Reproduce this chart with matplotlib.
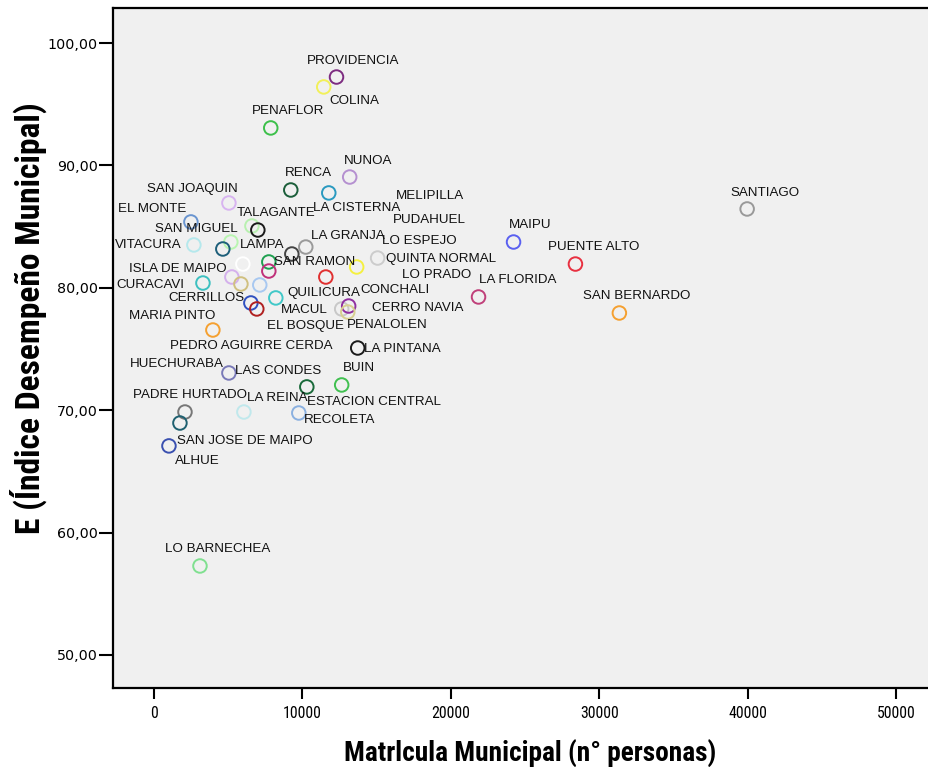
import matplotlib
matplotlib.use("Agg")
import matplotlib.pyplot as plt
from matplotlib import font_manager

# ---------------- data ----------------
comunas = [
    "PROVIDENCIA", "COLINA", "PENAFLOR", "NUNOA", "RENCA", "LA CISTERNA",
    "SAN JOAQUIN", "EL MONTE", "TALAGANTE", "LAMPA", "SAN MIGUEL", "VITACURA",
    "HUECHURABA", "LA GRANJA", "SAN RAMON", "QUINTA NORMAL", "LO ESPEJO", "",
    "PUDAHUEL", "LO PRADO", "ISLA DE MAIPO", "MELIPILLA", "CURACAVI", "CONCHALI",
    "PEDRO AGUIRRE CERDA", "QUILICURA", "CERRILLOS", "MACUL", "EL BOSQUE",
    "CERRO NAVIA", "PENALOLEN", "MARIA PINTO", "LA PINTANA", "LAS CONDES",
    "ESTACION CENTRAL", "BUIN", "PADRE HURTADO", "LA REINA", "RECOLETA",
    "SAN JOSE DE MAIPO", "ALHUE", "LO BARNECHEA", "SANTIAGO", "MAIPU",
    "PUENTE ALTO", "LA FLORIDA", "SAN BERNARDO",
]
matricula = [
    12300, 11440, 7870, 13190, 9220, 11780,
    5050, 2490, 6600, 7000, 5180, 2690,
    4640, 10230, 9290, 15070, 13660, 5990,
    7740, 7740, 5250, 11580, 3300, 5860,
    7130, 8210, 6530, 6930, 12650,
    13120, 13060, 3970, 13730, 5050,
    10300, 12650, 2090, 6060, 9760,
    1750, 1010, 3100, 39970, 24230,
    28400, 21870, 31360,
]
indice = [
    97.22, 96.41, 93.06, 89.05, 87.99, 87.75,
    86.93, 85.38, 85.05, 84.72, 83.74, 83.50,
    83.17, 83.33, 82.76, 82.43, 81.70, 81.94,
    82.11, 81.37, 80.88, 80.88, 80.39, 80.31,
    80.23, 79.17, 78.76, 78.27, 78.27,
    78.51, 78.02, 76.55, 75.08, 73.04,
    71.90, 72.06, 69.85, 69.85, 69.77,
    68.95, 67.08, 57.27, 86.44, 83.74,
    81.94, 79.25, 77.94,
]

x_ticks = [0, 10000, 20000, 30000, 40000, 50000]
y_ticks = [50, 60, 70, 80, 90, 100]
y_tick_labels = ["50,00", "60,00", "70,00", "80,00", "90,00", "100,00"]

# ---------------- styles ----------------
colores = [
    "#7d2c80", "#f2f05a", "#3cc04a", "#b590d0", "#1b5e3a", "#2a9ac0",
    "#d8b4f0", "#6a95d0", "#b8f0b0", "#1a1a1a", "#b8f5b0", "#b5e8ec",
    "#1e5f7a", "#9a9a9a", "#444444", "#cccccc", "#f5f040", "#ffffff",
    "#1fa050", "#c0307a", "#d4b0ec", "#e03030", "#3cc0c0", "#d0c080",
    "#a8c8f0", "#40c8c8", "#3050c0", "#b02020", "#c8c8c8",
    "#9030a0", "#d8d090", "#f5a030", "#1a1a1a", "#7a7ab8",
    "#1a6a3a", "#40c050", "#777777", "#c0e8ec", "#8ab0e0",
    "#1e6070", "#3a50b0", "#80e090", "#999999", "#5a60f0",
    "#e83040", "#c0407a", "#f5a030",
]
# label offsets (pixels, dx right, dy down) relative to each marker
label_off = [
    (17, -16), (31, 14), (17, -17), (18, -16), (18, -17), (28, 15),
    (-37, -14), (-39, -13), (24, -13), (4, 15), (-34, -13), (-46, 0),
    (-46, 115), (42, -11), (23, 8), (63, 1), (63, -26), (0, 0),
    (161, -42), (168, 4), (-54, -8), (104, -81), (-53, 2), (154, 6),
    (-9, 61), (48, -5), (-44, -5), (48, 1), (-36, 17),
    (69, 2), (39, 13), (-41, -14), (45, 1), (49, -2),
    (67, 15), (17, -17), (5, -17), (33, -14), (41, 7),
    (65, 18), (28, 15), (18, -17), (18, -16), (17, -17),
    (18, -17), (39, -17), (17, -17),
]

_avail = set(f.name for f in font_manager.fontManager.ttflist)


def pick(cands, default="Liberation Sans"):
    for c in cands:
        if c in _avail:
            return c
    return default


NARROW = pick(["Liberation Sans Narrow", "Arial Narrow", "Arimo Narrow",
               "Roboto Condensed", "PT Sans Narrow", "Archivo Narrow", "Asap Condensed"])

plt.rcParams['font.family'] = ['Liberation Sans', 'DejaVu Sans']

fig = plt.figure(figsize=(9.29, 7.67), dpi=100)
ax = fig.add_axes([113/929, 1-688/767, 1-113/929 + 0.01, (688-8)/767])
ax.set_facecolor("#f0f0f0")

ax.scatter(matricula, indice, s=95, facecolors="none", edgecolors=colores,
           linewidths=1.4, zorder=3)

pt = 72/100
for name, x, y, (dx, dy) in zip(comunas, matricula, indice, label_off):
    if name:
        ax.annotate(name, (x, y), xytext=(dx*pt, -dy*pt), textcoords="offset points",
                    ha="center", va="center", fontsize=9.6, color="#111111", zorder=4)

ax.set_xlim(-2760, 52850)
ax.set_ylim(47.3, 102.86)

ax.set_xticks(x_ticks)
ax.set_xticklabels([str(v) for v in x_ticks], fontfamily=[NARROW, 'Liberation Sans'],
                   fontsize=13)
ax.set_yticks(y_ticks)
ax.set_yticklabels(y_tick_labels, fontfamily=['DejaVu Sans'], fontsize=10.3)

ax.tick_params(axis="y", direction="out", length=10, width=1.5, color="black", pad=1)
ax.tick_params(axis="x", direction="out", length=8, width=1.5, color="black", pad=5)

for side in ["left", "bottom", "top"]:
    ax.spines[side].set_linewidth(1.6)
    ax.spines[side].set_color("black")
ax.spines["right"].set_visible(False)

xl = ax.set_xlabel("Matrlcula Municipal (n° personas)", fontfamily=[NARROW, 'Liberation Sans'],
                   fontweight="bold", fontsize=18)
ax.xaxis.set_label_coords(0.506, -0.076)
yl = ax.set_ylabel("E (Índice Desempeño Municipal)", fontfamily=[NARROW, 'Liberation Sans'],
                   fontweight="bold", fontsize=20)
ax.yaxis.set_label_coords(-0.080, 0.544)

# scale text sizes so the rendered extents match the reference
renderer = fig.canvas.get_renderer()


def fit(txt, target, use_height=False):
    bb = txt.get_window_extent(renderer)
    cur = bb.height if use_height else bb.width
    if cur > 0:
        txt.set_fontsize(txt.get_fontsize() * target / cur)


fit(xl, 372)
fit(yl, 430, use_height=True)
tl = ax.get_xticklabels()
fig.canvas.draw()
bb = tl[1].get_window_extent(renderer)
if bb.width > 0:
    s = 13 * 39 / bb.width
    for t in tl:
        t.set_fontsize(s)

fig.savefig("out.png", dpi=100, facecolor="white")
